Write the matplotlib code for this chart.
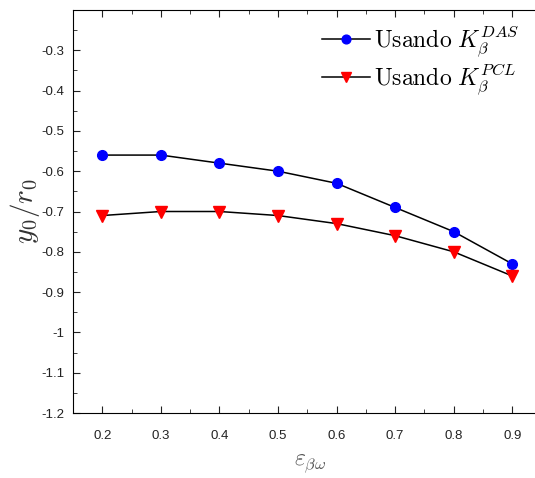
import matplotlib
matplotlib.use('Agg')
import matplotlib.pyplot as plt
from matplotlib.ticker import MultipleLocator

eps = [0.2, 0.3, 0.4, 0.5, 0.6, 0.7, 0.8, 0.9]
y_das = [-0.56, -0.56, -0.58, -0.60, -0.63, -0.69, -0.75, -0.83]
y_pcl = [-0.71, -0.70, -0.70, -0.71, -0.73, -0.76, -0.80, -0.86]

plt.rcParams['mathtext.fontset'] = 'cm'
plt.rcParams['font.family'] = 'Liberation Sans'

fig = plt.figure(figsize=(5.35, 4.78), dpi=100)
ax = fig.add_axes([73/535, 65/478, 475/535, 403/478])

ax.plot(eps, y_das, '-o', color='black', mfc='blue', mec='blue', ms=7, lw=1.1,
        label=r'$\mathrm{Usando}\ K_\beta^{DAS}$')
ax.plot(eps, y_pcl, '-v', color='black', mfc='red', mec='red', ms=8, lw=1.1,
        label=r'$\mathrm{Usando}\ K_\beta^{PCL}$')

ax.set_xlim(0.15, 0.961)
ax.set_ylim(-1.2, -0.2)
ax.set_xticks(eps)
ax.set_xticklabels([str(e) for e in eps])
yt = [-1.2, -1.1, -1.0, -0.9, -0.8, -0.7, -0.6, -0.5, -0.4, -0.3]
ax.set_yticks(yt)
ax.set_yticklabels(['%g' % v for v in yt])
ax.xaxis.set_minor_locator(MultipleLocator(0.05))
ax.yaxis.set_minor_locator(MultipleLocator(0.05))
ax.tick_params(which='both', direction='in', top=True, right=False, labelsize=9.5, colors='#222222')
ax.tick_params(which='major', length=5)
ax.tick_params(which='minor', length=3)
ax.tick_params(axis='x', pad=12)
ax.tick_params(axis='y', pad=6)
ax.spines['right'].set_visible(False)

ax.set_xlabel(r'$\varepsilon_{\beta\omega}$', fontsize=17, color='#555555', labelpad=8)
ax.set_ylabel(r'$y_0/r_0$', fontsize=21, color='#333333', labelpad=0)

ax.legend(loc='upper right', bbox_to_anchor=(0.985, 1.02), frameon=False, fontsize=17,
          handlelength=2.0, handletextpad=0.2, labelspacing=0.12, markerscale=0.9)

fig.savefig('out.png', dpi=100)
